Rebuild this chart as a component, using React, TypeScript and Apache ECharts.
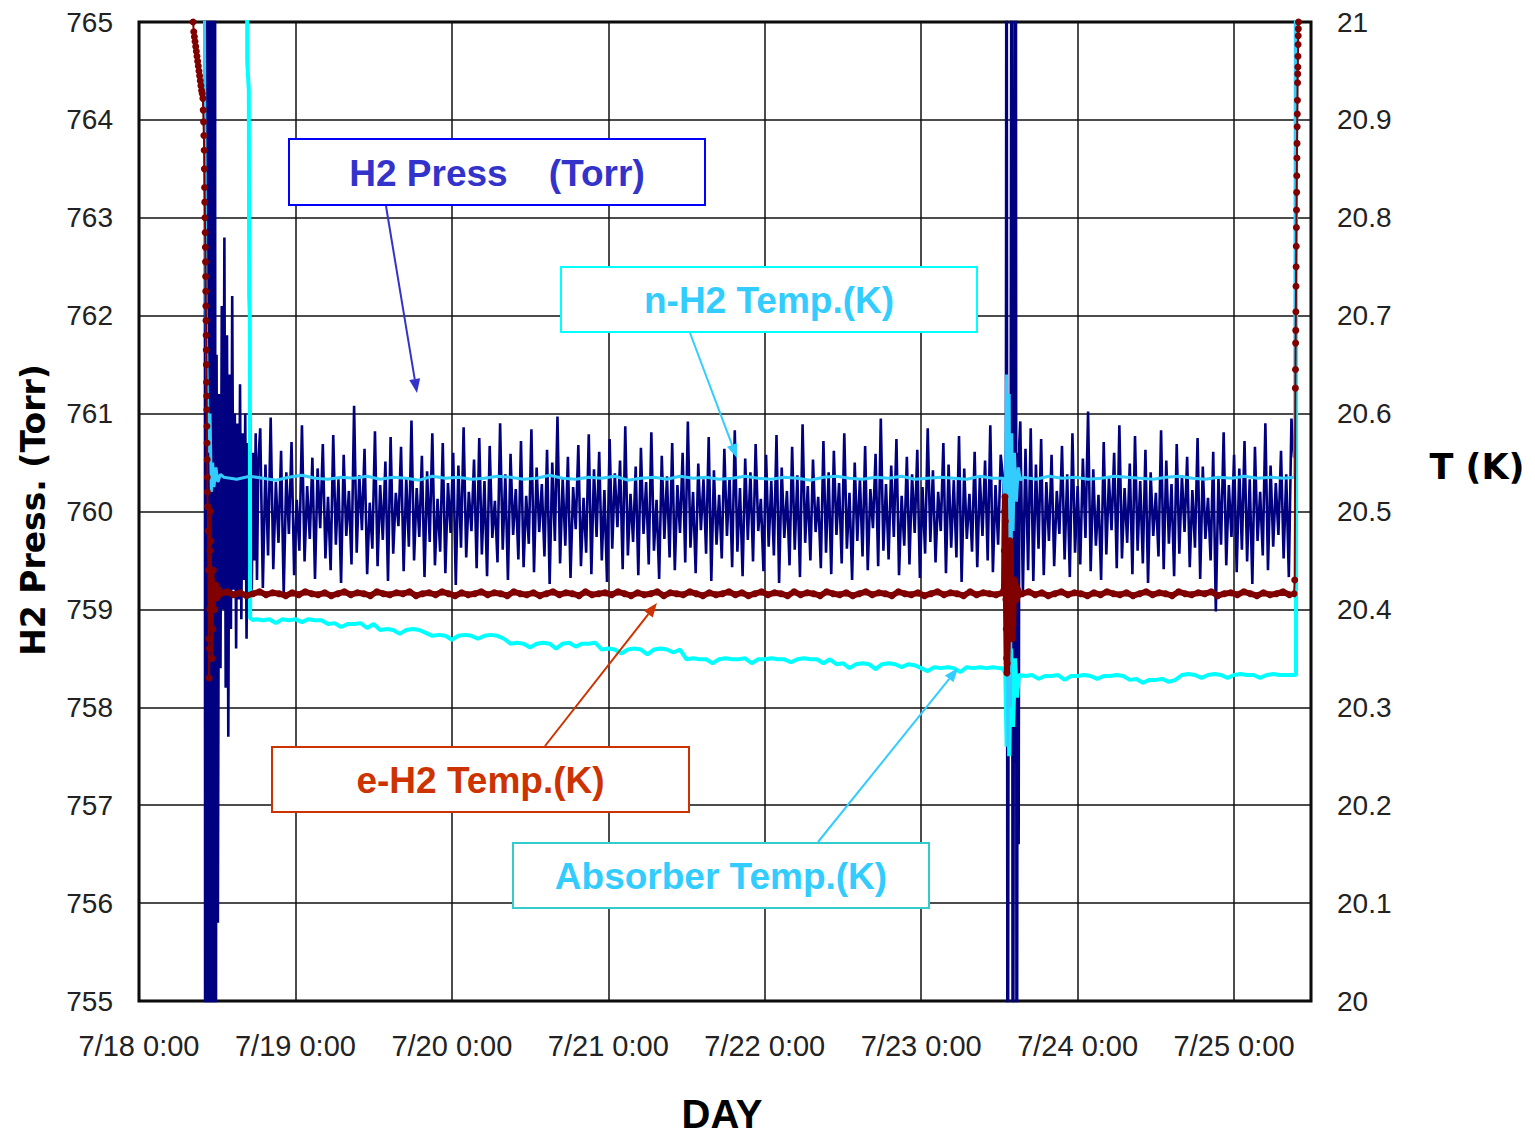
import React, { useEffect, useRef } from "react";
import * as echarts from "echarts";

// ---------- axis tick labels ----------
const dayLabels = ["7/18 0:00", "7/19 0:00", "7/20 0:00", "7/21 0:00", "7/22 0:00", "7/23 0:00", "7/24 0:00", "7/25 0:00"];

// ---------- H2 pressure (Torr), time in hours from 7/18 0:00 ----------
const pressStartup: number[][] = [
  [10.1, 770], [10.15, 750], [10.25, 770], [10.35, 750], [10.45, 770], [10.55, 750], [10.65, 770], [10.75, 750],
  [10.85, 770], [10.95, 750], [11.05, 770], [11.15, 750], [11.25, 770], [11.35, 750], [11.45, 770], [11.55, 750],
  [11.65, 770], [11.75, 750], [11.9, 761.6], [12.1, 755.8], [12.3, 761.2], [12.5, 758.4], [12.7, 762.1], [12.9, 759.0],
  [13.1, 762.8], [13.3, 758.2], [13.5, 761.8], [13.7, 757.7], [13.9, 761.4], [14.1, 758.8], [14.3, 762.2], [14.5, 759.2],
  [14.7, 761.0], [14.9, 758.6], [15.1, 760.9], [15.3, 759.1], [15.5, 761.3], [15.7, 758.9], [15.9, 760.8], [16.1, 759.3],
  [16.3, 761.0], [16.5, 758.7], [16.7, 760.7], [16.9, 759.4], [17.1, 760.95], [17.3, 759.2], [17.5, 760.6], [17.7, 759.5],
  [17.9, 760.8], [18.1, 759.3], [18.3, 760.5],
];
const pressSteady1Start = 18.6;
const pressSteady1Step = 0.4;
const pressSteady1: number[] = [
  760.85, 759.22, 760.48, 759.55, 760.96, 759.41, 760.30, 759.68, 760.62, 759.15, 760.40, 759.77, 760.71, 759.35, 760.12, 759.60, 760.88, 759.49, 760.26, 759.72,
  760.55, 759.31, 760.44, 759.83, 760.69, 759.52, 760.15, 759.40, 760.78, 759.66, 760.33, 759.27, 760.58, 759.75, 760.21, 759.46, 761.08, 759.58, 760.37, 759.81,
  760.64, 759.36, 760.09, 759.62, 760.82, 759.44, 760.27, 759.71, 760.51, 759.29, 760.76, 759.57, 760.19, 759.85, 760.66, 759.39, 760.35, 759.64, 760.93, 759.50,
  760.24, 759.74, 760.57, 759.33, 760.41, 759.69, 760.80, 759.45, 760.13, 759.59, 760.70, 759.37, 760.29, 759.78, 760.60, 759.25, 760.47, 759.63, 760.86, 759.53,
  760.20, 759.80, 760.53, 759.42, 760.75, 759.56, 760.31, 759.34, 760.67, 759.73, 760.11, 759.48, 760.90, 759.61, 760.38, 759.30, 760.59, 759.76, 760.23, 759.51,
  760.72, 759.43, 760.16, 759.67, 760.84, 759.38, 760.45, 759.79, 760.28, 759.54, 760.63, 759.26, 760.50, 759.70, 760.97, 759.47, 760.34, 759.65, 760.56, 759.32,
  760.25, 759.82, 760.68, 759.44, 760.14, 759.58, 760.79, 759.36, 760.43, 759.74, 760.61, 759.50, 760.22, 759.28, 760.74, 759.62, 760.39, 759.84, 760.52, 759.41,
  760.87, 759.55, 760.18, 759.69, 760.46, 759.35, 760.65, 759.77, 760.30, 759.46, 760.81, 759.60, 760.12, 759.31, 760.57, 759.72, 760.36, 759.53, 760.70, 759.40,
  760.27, 759.78, 760.60, 759.48, 760.92, 759.63, 760.20, 759.37, 760.49, 759.81, 760.33, 759.57, 760.76, 759.29, 760.42, 759.66, 760.17, 759.52, 760.64, 759.75,
  760.35, 759.43, 760.83, 759.59, 760.24, 759.34, 760.54, 759.71, 760.40, 759.49, 760.69, 759.80, 760.13, 759.39, 760.58, 759.64, 760.31, 759.55, 760.78, 759.27,
  760.45, 759.73, 760.21, 759.45, 760.66, 759.61, 760.37, 759.33, 760.89, 759.68, 760.26, 759.50, 760.53, 759.79, 760.15, 759.42, 760.72, 759.58, 760.40, 759.36,
  760.62, 759.76, 760.29, 759.47, 760.80, 759.62, 760.19, 759.30, 760.50, 759.70, 760.34, 759.54, 760.67, 759.40, 760.23, 759.83, 760.59, 759.44, 760.95, 759.60,
  760.28, 759.51, 760.47, 759.74, 760.74, 759.35, 760.16, 759.65, 760.56, 759.46, 760.38, 759.78, 760.63, 759.32, 760.25, 759.57, 760.85, 759.69, 760.42, 759.48,
  760.20, 759.80, 760.70, 759.37, 760.48, 759.63, 760.32, 759.53, 760.77, 759.28, 760.44, 759.72, 760.18, 759.59, 760.61, 759.43, 760.36, 759.75, 760.52, 759.50,
  760.88, 759.38, 760.27, 759.66, 760.58,
];
const pressEvent: number[][] = [
  [132.6, 760.3], [132.8, 759.4], [133.0, 760.8], [133.1, 770], [133.25, 750], [133.45, 761.2], [133.7, 759.0],
  [133.9, 770], [134.05, 750], [134.25, 760.9], [134.5, 770], [134.65, 750], [134.8, 760.6], [134.95, 756.6], [135.05, 760.7],
];
const pressSteady2Start = 135.2;
const pressSteady2Step = 0.4;
const pressSteady2: number[] = [
  760.92, 759.18, 760.64, 759.40, 760.85, 759.29, 760.48, 759.62, 760.74, 759.35, 760.30, 759.70, 760.58, 759.44, 760.21, 759.77, 760.67, 759.51, 760.38, 759.33,
  760.80, 759.58, 760.26, 759.46, 760.54, 759.73, 761.02, 759.39, 760.43, 759.65, 760.17, 759.30, 760.71, 759.56, 760.34, 759.81, 760.60, 759.42, 760.88, 759.52,
  760.24, 759.68, 760.49, 759.36, 760.77, 759.60, 760.31, 759.47, 760.63, 759.27, 760.40, 759.75, 760.19, 759.54, 760.83, 759.41, 760.52, 759.67, 760.28, 759.34,
  760.69, 759.57, 760.37, 759.79, 760.56, 759.43, 760.22, 759.63, 760.75, 759.31, 760.46, 759.72, 760.14, 759.50, 760.61, 758.98, 760.35, 759.66, 760.81, 759.45,
  760.27, 759.74, 760.58, 759.38, 760.44, 759.61, 760.72, 759.49, 760.33, 759.26, 760.66, 759.70, 760.20, 759.55, 760.90, 759.40, 760.47, 759.64, 760.29, 759.76,
  760.62, 759.52, 760.38, 759.33, 760.95, 760.55,
];

// ---------- n-H2 temperature (K) ----------
const nh2Startup: number[][] = [
  [9.9, 21.3], [10.1, 20.9], [10.3, 20.7], [10.5, 20.62], [10.7, 20.56], [10.9, 20.6], [11.1, 20.52],
  [11.3, 20.55], [11.5, 20.525], [11.8, 20.545], [12.1, 20.53], [12.5, 20.538],
];
const nh2Flat1Start = 13;
const nh2Flat1Step = 2;
const nh2Flat1: number[] = [
  20.535, 20.533, 20.536, 20.534, 20.532, 20.535, 20.537, 20.534, 20.533, 20.535,
  20.534, 20.536, 20.533, 20.535, 20.534, 20.532, 20.536, 20.534, 20.535, 20.533,
  20.534, 20.536, 20.535, 20.533, 20.534, 20.537, 20.534, 20.533, 20.535, 20.534,
  20.536, 20.532, 20.534, 20.535, 20.533, 20.536, 20.534, 20.535, 20.533, 20.534,
  20.536, 20.534, 20.533, 20.535, 20.534, 20.532, 20.535, 20.536, 20.534, 20.533,
  20.535, 20.534, 20.536, 20.533, 20.534, 20.535, 20.534, 20.533, 20.536, 20.534,
];
const nh2Event: number[][] = [
  [132.6, 20.534], [132.9, 20.5], [133.1, 20.64], [133.3, 20.26], [133.5, 20.62], [133.7, 20.3], [133.9, 20.58],
  [134.1, 20.48], [134.3, 20.56], [134.6, 20.51], [134.9, 20.545], [135.2, 20.532],
];
const nh2Flat2Start = 135.6;
const nh2Flat2Step = 2;
const nh2Flat2: number[] = [
  20.535, 20.533, 20.536, 20.534, 20.535, 20.533, 20.534, 20.536, 20.535, 20.534, 20.533,
  20.535, 20.536, 20.534, 20.533, 20.535, 20.534, 20.536, 20.534, 20.535, 20.534,
];
const nh2End: number[][] = [[177.3, 20.535], [177.45, 21.3]];

// ---------- Absorber temperature (K) ----------
const absStartup: number[][] = [
  [16.55, 21.3], [16.6, 20.96], [16.85, 20.93], [16.9, 20.72], [17.0, 20.70], [17.05, 20.391], [17.5, 20.389],
];
const absFlat1Start = 18;
const absFlat1Step = 1;
const absFlat1: number[] = [
  20.390, 20.389, 20.390, 20.386, 20.390, 20.389, 20.390, 20.387, 20.390, 20.389, 20.389,
  20.385, 20.386, 20.382, 20.385, 20.385, 20.386, 20.381, 20.385,
  20.379, 20.380, 20.379, 20.375, 20.379, 20.380, 20.379, 20.376,
  20.373, 20.374, 20.373, 20.369, 20.373, 20.374, 20.373, 20.370, 20.373, 20.374, 20.373, 20.370,
  20.365, 20.366, 20.365, 20.361, 20.365, 20.366, 20.365, 20.360, 20.365, 20.366, 20.362, 20.365, 20.365, 20.366,
  20.359, 20.360, 20.359, 20.355, 20.359, 20.360, 20.359, 20.354, 20.359, 20.360, 20.359, 20.356, 20.359,
  20.349, 20.350, 20.349, 20.349, 20.345, 20.349, 20.350, 20.349, 20.349, 20.350, 20.345, 20.349,
  20.349, 20.350, 20.349, 20.349, 20.346, 20.349, 20.350, 20.349, 20.349, 20.345, 20.349,
  20.344, 20.345, 20.340, 20.344, 20.345, 20.344, 20.339, 20.344, 20.345, 20.344, 20.341, 20.344, 20.343,
  20.340, 20.337, 20.341, 20.340, 20.341, 20.340, 20.336, 20.341, 20.340, 20.341, 20.340, 20.341, 20.340,
];
const absEvent: number[][] = [
  [132.5, 20.34], [132.9, 20.335], [133.1, 20.26], [133.3, 20.40], [133.5, 20.25], [133.8, 20.36],
  [134.1, 20.28], [134.4, 20.35], [134.7, 20.31], [135.0, 20.333],
];
const absFlat2Start = 136;
const absFlat2Step = 1;
const absFlat2: number[] = [
  20.332, 20.333, 20.329, 20.332, 20.332, 20.333, 20.328, 20.332, 20.332, 20.333, 20.332, 20.329, 20.332, 20.332, 20.333, 20.332,
  20.328, 20.329, 20.325, 20.328, 20.328, 20.329, 20.326, 20.328,
  20.333, 20.334, 20.333, 20.330, 20.333, 20.334, 20.333, 20.330, 20.333, 20.334, 20.333, 20.333, 20.330, 20.333, 20.334, 20.333, 20.333, 20.333,
];
const absEnd: number[][] = [[177.5, 20.333], [177.55, 21.3]];

// ---------- e-H2 temperature (K) ----------
const eh2Startup: number[][] = [
  [8.2, 21.02], [8.3, 21.0], [8.4, 20.99], [8.5, 20.985], [8.6, 20.98], [8.7, 20.975], [8.8, 20.97], [8.9, 20.965],
  [9.0, 20.96], [9.1, 20.955], [9.2, 20.95], [9.3, 20.945], [9.4, 20.94], [9.5, 20.935], [9.6, 20.93], [9.7, 20.927],
  [9.8, 20.922], [9.85, 20.91], [9.9, 20.898], [9.95, 20.884], [10.0, 20.869], [10.03, 20.85], [10.06, 20.831],
  [10.09, 20.816], [10.12, 20.8], [10.15, 20.785], [10.18, 20.77], [10.2, 20.755], [10.22, 20.74], [10.24, 20.725],
  [10.26, 20.71], [10.28, 20.695], [10.3, 20.68], [10.32, 20.665], [10.34, 20.65], [10.36, 20.632], [10.38, 20.618],
  [10.4, 20.604], [10.42, 20.587], [10.44, 20.57], [10.46, 20.553], [10.48, 20.535], [10.5, 20.52], [10.55, 20.505],
  [10.6, 20.48], [10.65, 20.44], [10.7, 20.37], [10.75, 20.33], [10.8, 20.36], [10.85, 20.40], [10.9, 20.46],
  [10.95, 20.5], [11.0, 20.47], [11.1, 20.43], [11.2, 20.35], [11.3, 20.38], [11.4, 20.44], [11.5, 20.42],
  [11.6, 20.40], [11.8, 20.425], [12.0, 20.412], [12.25, 20.42],
];
const eh2Flat1Start = 12.5;
const eh2Flat1Step = 1;
const eh2Flat1: number[] = [
  20.416, 20.418, 20.415, 20.417, 20.414, 20.416, 20.418, 20.415, 20.417, 20.416, 20.414, 20.417, 20.415, 20.418, 20.416, 20.415, 20.417, 20.414, 20.416, 20.418,
  20.415, 20.417, 20.416, 20.414, 20.418, 20.416, 20.415, 20.417, 20.416, 20.418, 20.414, 20.416, 20.417, 20.415, 20.418, 20.416, 20.414, 20.417, 20.415, 20.416,
  20.418, 20.415, 20.417, 20.416, 20.414, 20.418, 20.416, 20.415, 20.417, 20.414, 20.416, 20.418, 20.415, 20.417, 20.416, 20.414, 20.418, 20.415, 20.416, 20.417,
  20.415, 20.418, 20.416, 20.414, 20.417, 20.415, 20.416, 20.418, 20.414, 20.417, 20.416, 20.415, 20.418, 20.416, 20.414, 20.417, 20.415, 20.416, 20.418, 20.415,
  20.417, 20.414, 20.416, 20.418, 20.415, 20.417, 20.416, 20.414, 20.418, 20.415, 20.417, 20.416, 20.414, 20.418, 20.416, 20.415, 20.417, 20.414, 20.416, 20.418,
  20.415, 20.417, 20.416, 20.414, 20.418, 20.416, 20.415, 20.417, 20.414, 20.416, 20.418, 20.415, 20.417, 20.416, 20.414, 20.418, 20.415, 20.417, 20.416, 20.415,
  20.417,
];
const eh2Event: number[][] = [
  [132.7, 20.42], [132.75, 20.46], [132.8, 20.5], [132.85, 20.515], [132.9, 20.49], [132.95, 20.45], [133.0, 20.41],
  [133.05, 20.38], [133.1, 20.35], [133.15, 20.335], [133.2, 20.345], [133.3, 20.37], [133.4, 20.4], [133.5, 20.44],
  [133.6, 20.47], [133.7, 20.45], [133.8, 20.42], [133.9, 20.39], [134.0, 20.37], [134.1, 20.385], [134.2, 20.41],
  [134.3, 20.43], [134.45, 20.425], [134.6, 20.41], [134.8, 20.42], [135.0, 20.415],
];
const eh2Flat2Start = 135.5;
const eh2Flat2Step = 1;
const eh2Flat2: number[] = [
  20.416, 20.418, 20.415, 20.417, 20.414, 20.416, 20.418, 20.415, 20.417, 20.416, 20.414, 20.417, 20.415, 20.418,
  20.416, 20.415, 20.417, 20.414, 20.416, 20.418, 20.415, 20.417, 20.416, 20.414, 20.418, 20.416, 20.415, 20.417,
  20.416, 20.418, 20.414, 20.416, 20.417, 20.415, 20.418, 20.416, 20.414, 20.417, 20.415, 20.416, 20.418, 20.415,
];
const eh2End: number[][] = [
  [177.2, 20.416], [177.3, 20.43], [177.4, 20.626], [177.42, 20.645], [177.44, 20.672], [177.46, 20.685],
  [177.48, 20.704], [177.5, 20.73], [177.52, 20.75], [177.54, 20.771], [177.56, 20.79], [177.58, 20.808],
  [177.6, 20.826], [177.62, 20.843], [177.64, 20.861], [177.66, 20.876], [177.68, 20.893], [177.7, 20.906],
  [177.72, 20.92], [177.74, 20.938], [177.76, 20.947], [177.78, 20.954], [177.8, 20.965], [177.82, 20.977],
  [177.84, 20.986], [177.86, 20.993], [177.88, 21.0],
];

const seq = (start: number, step: number, vals: number[]) => vals.map((v, i) => [+(start + i * step).toFixed(3), v]);

const W = 1535;
const H = 1136;

function box(x: number, y: number, w: number, h: number, text: string, stroke: string, fill: string) {
  return [
    { type: "rect", z: 50, shape: { x, y, width: w, height: h }, style: { fill: "#fff", stroke, lineWidth: 2 } },
    {
      type: "text", z: 51, x: x + w / 2, y: y + h / 2 + 1,
      style: { text, fill, font: "bold 37px 'Liberation Sans', Arial, sans-serif", textAlign: "center", textVerticalAlign: "middle", verticalAlign: "middle" },
    },
  ];
}

function arrow(x1: number, y1: number, x2: number, y2: number, color: string) {
  const a = Math.atan2(y2 - y1, x2 - x1);
  const L = 14, Wd = 5.5;
  const bx = x2 - L * Math.cos(a), by = y2 - L * Math.sin(a);
  return [
    { type: "line", z: 52, shape: { x1, y1, x2: bx, y2: by }, style: { stroke: color, lineWidth: 2 } },
    {
      type: "polygon", z: 52,
      shape: { points: [[x2, y2], [bx + Wd * Math.sin(a), by - Wd * Math.cos(a)], [bx - Wd * Math.sin(a), by + Wd * Math.cos(a)]] },
      style: { fill: color },
    },
  ];
}

export default function App() {
  const ref = useRef<HTMLDivElement>(null);
  useEffect(() => {
    if (!ref.current) return;
    const chart = echarts.init(ref.current, undefined, { renderer: "svg", width: W, height: H });

    const pressData = [
      ...pressStartup,
      ...seq(pressSteady1Start, pressSteady1Step, pressSteady1),
      ...pressEvent,
      ...seq(pressSteady2Start, pressSteady2Step, pressSteady2),
    ];
    const nh2Data = [
      ...nh2Startup,
      ...seq(nh2Flat1Start, nh2Flat1Step, nh2Flat1),
      ...nh2Event,
      ...seq(nh2Flat2Start, nh2Flat2Step, nh2Flat2),
      ...nh2End,
    ];
    const absData = [
      ...absStartup,
      ...seq(absFlat1Start, absFlat1Step, absFlat1),
      ...absEvent,
      ...seq(absFlat2Start, absFlat2Step, absFlat2),
      ...absEnd,
    ];
    const eh2Flat = [
      ...seq(eh2Flat1Start, eh2Flat1Step, eh2Flat1),
      ...eh2Event,
      ...seq(eh2Flat2Start, eh2Flat2Step, eh2Flat2),
    ];
    const eh2Data = [...eh2Startup, ...eh2Flat, ...eh2End];

    const labelFont = { fontFamily: "'Liberation Sans', Arial, sans-serif", color: "#222" };

    chart.setOption({
      animation: false,
      backgroundColor: "#fff",
      grid: { left: 139, right: 224, top: 22, bottom: 135, show: true, borderColor: "#000", borderWidth: 3, backgroundColor: "transparent" },
      xAxis: {
        type: "value", min: 0, max: 179.8, interval: 24,
        axisLine: { show: false }, axisTick: { show: false },
        splitLine: { show: true, lineStyle: { color: "#111", width: 1.5 } },
        axisLabel: {
          ...labelFont, fontSize: 29, margin: 30, showMaxLabel: false,
          formatter: (v: number) => {
            const h = Math.round(v);
            return Math.abs(v - h) < 1e-6 && h % 24 === 0 ? dayLabels[h / 24] ?? "" : "";
          },
        },
      },
      yAxis: [
        {
          type: "value", min: 755, max: 765, interval: 1,
          axisLine: { show: false }, axisTick: { show: false },
          splitLine: { show: true, lineStyle: { color: "#111", width: 1.5 } },
          axisLabel: { ...labelFont, fontSize: 28, margin: 26 },
        },
        {
          type: "value", min: 20, max: 21, interval: 0.1, position: "right",
          axisLine: { show: false }, axisTick: { show: false }, splitLine: { show: false },
          axisLabel: { ...labelFont, fontSize: 28, margin: 26, formatter: (v: number) => String(Math.round(v * 10) / 10) },
        },
      ],
      series: [
        {
          name: "H2 Press", type: "line", yAxisIndex: 0, data: pressData, showSymbol: false, symbol: "none",
          lineStyle: { color: "#000080", width: 2.6 }, z: 2,
        },
        {
          name: "Absorber Temp", type: "line", yAxisIndex: 1, data: absData, showSymbol: false, symbol: "none",
          lineStyle: { color: "#00FFFF", width: 4 }, z: 3,
        },
        {
          name: "n-H2 Temp", type: "line", yAxisIndex: 1, data: nh2Data, showSymbol: false, symbol: "none",
          lineStyle: { color: "#33CCFF", width: 3 }, z: 4,
        },
        {
          name: "e-H2 Temp", type: "line", yAxisIndex: 1, data: eh2Data, showSymbol: true, showAllSymbol: true,
          symbol: "circle", symbolSize: 7, itemStyle: { color: "#800000", borderWidth: 0 },
          lineStyle: { color: "#800000", width: 2 }, z: 5,
        },
        {
          name: "e-H2 Temp", type: "line", yAxisIndex: 1, data: eh2Flat, showSymbol: false, symbol: "none",
          lineStyle: { color: "#800000", width: 6 }, z: 5,
        },
      ],
      graphic: [
        ...box(289, 139, 416, 66, "H2 Press    (Torr)", "#0000FF", "#3333CC"),
        ...box(561, 267, 416, 65, "n-H2 Temp.(K)", "#00FFFF", "#33CCFF"),
        ...box(272, 747, 417, 65, "e-H2 Temp.(K)", "#CC3300", "#CC3300"),
        ...box(513, 843, 416, 65, "Absorber Temp.(K)", "#33CCCC", "#33CCFF"),
        ...arrow(386, 206, 417, 393, "#3333CC"),
        ...arrow(690, 333, 737, 458, "#33CCFF"),
        ...arrow(545, 746, 657, 603, "#CC3300"),
        ...arrow(818, 842, 958, 668, "#33CCFF"),
        {
          type: "text", x: 33, y: 510, rotation: Math.PI / 2, z: 60,
          style: { text: "H2 Press. (Torr)", fill: "#000", font: "bold 33px 'DejaVu Sans', sans-serif", textAlign: "center", textVerticalAlign: "middle", verticalAlign: "middle" },
        },
        {
          type: "text", x: 1477, y: 467, z: 60,
          style: { text: "T (K)", fill: "#000", font: "bold 35px 'DejaVu Sans', sans-serif", textAlign: "center", textVerticalAlign: "middle", verticalAlign: "middle" },
        },
        {
          type: "text", x: 722, y: 1114, z: 60,
          style: { text: "DAY", fill: "#000", font: "bold 40px 'Liberation Sans', Arial, sans-serif", textAlign: "center", textVerticalAlign: "middle", verticalAlign: "middle" },
        },
      ],
    });
    return () => chart.dispose();
  }, []);
  return <div ref={ref} style={{ position: "absolute", left: 0, top: 0, width: W, height: H }} />;
}
